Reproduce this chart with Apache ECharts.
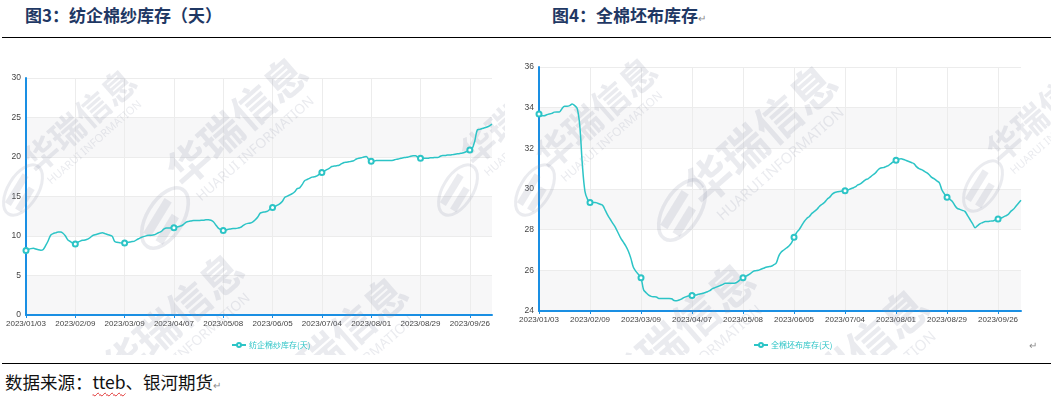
<!DOCTYPE html>
<html><head><meta charset="utf-8">
<script src="https://cdn.jsdelivr.net/npm/echarts/dist/echarts.min.js"></script>
<style>
html,body{margin:0;padding:0;}
body{width:1051px;height:404px;background:#fff;position:relative;overflow:hidden;font-family:"Noto Sans CJK SC",sans-serif;}
.t{position:absolute;top:3px;font-weight:bold;color:#1f3864;font-size:17px;line-height:24px;white-space:nowrap;}
.hr{position:absolute;left:2px;width:1049px;height:1px;background:#000;}
#c1{position:absolute;left:0;top:40px;width:505px;height:315px;}
#c2{position:absolute;left:510px;top:40px;width:541px;height:315px;}
.src{position:absolute;left:5px;top:370px;font-size:17.5px;line-height:24px;color:#111;white-space:nowrap;}
.ret{color:#8a8a8a;font-size:10px;font-weight:normal;}
.u{text-decoration:underline wavy #e03030;text-decoration-thickness:1px;text-underline-offset:3px;}
</style></head>
<body>
<div class="t" style="left:25px">图3：纺企棉纱库存（天）</div>
<div class="t" style="left:552px">图4：全棉坯布库存<span class="ret">↵</span></div>
<div class="hr" style="top:37px"></div>
<div id="c1"></div>
<div id="c2"></div>
<div class="ret" style="position:absolute;left:1029px;top:337px;z-index:5">↵</div>
<div class="hr" style="top:363px"></div>
<div class="src">数据来源：<span class="u">tteb</span>、银河期货<span class="ret">↵</span></div>
<script>
// Working dates (2023) shown on the category axis
const monthDays = [
  ['01',[3,4,5,6,9,10,11,12,13,16,17,18,30,31]],
  ['02',[1,2,3,6,7,8,9,10,13,14,15,16,17,20,21,22,23,24,27,28]],
  ['03',[1,2,3,6,7,8,9,10,13,14,15,16,17,20,21,22,23,24,27,28,29,30,31]],
  ['04',[3,4,6,7,10,11,12,13,14,17,18,19,20,21,23,24,25,26,27,28]],
  ['05',[4,5,6,8,9,10,11,12,15,16,17,18,19,22,23,24,25,26,29,30,31]],
  ['06',[1,2,5,6,7,8,9,12,13,14,15,16,19,20,21,25,26,27,28,29,30]],
  ['07',[3,4,5,6,7,10,11,12,13,14,17,18,19,20,21,24,25,26,27,28,31]],
  ['08',[1,2,3,4,7,8,9,10,11,14,15,16,17,18,21,22,23,24,25,28,29,30,31]],
  ['09',[1,4,5,6,7,8,11,12,13,14,15,18,19,20,21,22,25,26,27,28]],
  ['10',[7,8,9,10,11,12,13]]
];
const categories = [];
monthDays.forEach(([m, days]) => days.forEach(d => categories.push('2023/' + m + '/' + String(d).padStart(2,'0'))));

// Dates that carry a tick label and a marker on the line
const tickLabels = ['2023/01/03','2023/02/09','2023/03/09','2023/04/07','2023/05/08',
                    '2023/06/05','2023/07/04','2023/08/01','2023/08/29','2023/09/26'];

const yarnName = '纺企棉纱库存(天)';
const yarnValues = [
  8.15,8.3,8.4,8.45,8.35,8.25,8.2,8.3,8.8,9.4,
  10.1,10.3,10.4,10.5,10.5,10.35,10.0,9.5,9.3,9.1,
  9.0,9.2,9.35,9.45,9.5,9.6,9.8,10.05,10.15,10.25,
  10.35,10.4,10.3,10.2,10.1,9.95,9.3,9.2,9.15,9.1,
  9.1,9.15,9.25,9.3,9.35,9.55,9.7,9.85,9.95,10.05,
  10.1,10.1,10.15,10.3,10.45,10.6,10.9,11.0,11.0,11.05,
  11.05,11.1,11.2,11.3,11.5,11.75,11.85,11.9,11.95,11.95,
  11.95,12.0,12.0,12.05,12.05,12.0,11.8,11.4,11.0,10.8,
  10.7,10.75,10.85,10.9,10.95,10.95,11.0,11.1,11.3,11.5,
  11.6,11.65,11.8,12.05,12.4,12.9,13.0,13.05,13.15,13.4,
  13.6,13.75,13.9,14.1,14.4,14.9,15.05,15.2,15.35,15.6,
  16.0,16.1,16.5,17.0,17.15,17.3,17.45,17.5,17.6,17.85,
  18.05,18.2,18.4,18.55,18.8,18.85,18.9,18.95,19.15,19.3,
  19.35,19.4,19.45,19.55,19.75,19.85,19.9,20.0,20.05,19.7,
  19.45,19.45,19.55,19.55,19.55,19.55,19.55,19.55,19.55,19.6,
  19.7,19.75,19.85,19.9,19.95,20.0,20.1,20.15,20.15,19.95,
  19.85,19.85,19.85,19.85,19.9,19.9,19.95,19.95,20.1,20.2,
  20.2,20.25,20.25,20.3,20.35,20.4,20.45,20.5,20.6,20.75,
  20.9,21.1,22.0,23.4,23.5,23.6,23.7,23.8,23.95,24.15
];
const yarnTicks = [0, 5, 10, 15, 20, 25, 30];

const clothName = '全棉坯布库存(天)';
const clothValues = [
  33.69,33.6,33.6,33.65,33.69,33.72,33.78,33.79,33.79,33.95,
  34.07,34.07,34.1,34.18,34.1,33.95,33.1,31.2,29.9,29.5,
  29.34,29.34,29.34,29.3,29.25,29.19,28.95,28.7,28.5,28.3,
  28.1,27.85,27.6,27.4,27.2,26.95,26.6,26.15,25.95,25.8,
  25.64,25.05,24.9,24.78,24.72,24.7,24.69,24.62,24.62,24.62,
  24.62,24.62,24.6,24.52,24.51,24.54,24.6,24.67,24.72,24.75,
  24.76,24.78,24.8,24.84,24.86,24.9,24.95,25.0,25.1,25.15,
  25.2,25.25,25.3,25.36,25.36,25.36,25.36,25.38,25.45,25.55,
  25.64,25.7,25.77,25.85,25.95,25.98,26.0,26.05,26.1,26.15,
  26.18,26.2,26.27,26.35,26.7,26.9,27.0,27.1,27.2,27.35,
  27.63,27.85,28.0,28.2,28.4,28.55,28.65,28.8,28.9,29.0,
  29.15,29.25,29.35,29.5,29.6,29.75,29.83,29.86,29.88,29.9,
  29.91,29.95,30.0,30.05,30.1,30.2,30.25,30.35,30.45,30.5,
  30.6,30.7,30.8,30.95,31.03,31.05,31.1,31.15,31.25,31.35,
  31.41,31.47,31.49,31.45,31.4,31.35,31.3,31.25,31.1,31.0,
  30.95,30.88,30.8,30.7,30.57,30.5,30.4,30.3,29.95,29.75,
  29.6,29.5,29.4,29.2,29.05,29.0,28.95,28.9,28.7,28.5,
  28.3,28.1,28.2,28.3,28.35,28.4,28.4,28.42,28.43,28.48,
  28.53,28.56,28.62,28.68,28.75,28.9,29.0,29.15,29.3,29.45
];
const clothTicks = [24, 26, 28, 30, 32, 34, 36];

const LINE = '#2cc4c6';
const AXIS = '#1a8fe3';
const LABEL_FONT = '"Liberation Sans","Noto Sans",sans-serif';
const WM = 'rgba(140,142,165,0.18)';

const isTick = (idx) => tickLabels.indexOf(categories[idx]) !== -1;

function watermark(x, y, s) {
  return {
    type: 'group', x: x, y: y, rotation: 0.72, z: 50, silent: true,
    children: [
      { type: 'text', z: 50, x: 0, y: 0, style: { text: '华瑞信息', fill: WM, fontSize: 34 * s, fontWeight: 'bold', fontFamily: '"Noto Sans CJK SC"', verticalAlign: 'bottom' } },
      { type: 'text', z: 50, x: 4 * s, y: 4 * s, style: { text: 'HUARUI INFORMATION', fill: WM, fontSize: 11 * s, fontFamily: '"Noto Sans",sans-serif', verticalAlign: 'top' } }
    ]
  };
}
function logo(x, y, s) {
  return {
    type: 'group', x: x, y: y, rotation: -0.55, z: 50, silent: true,
    children: [
      { type: 'ellipse', z: 50, shape: { cx: 0, cy: 0, rx: 15 * s, ry: 28 * s }, style: { fill: 'none', stroke: WM, lineWidth: 3 * s } },
      { type: 'rect', z: 50, shape: { x: -9 * s, y: -14 * s, width: 7 * s, height: 34 * s }, style: { fill: WM } },
      { type: 'rect', z: 50, shape: { x: 3 * s, y: -6 * s, width: 7 * s, height: 26 * s }, style: { fill: WM } }
    ]
  };
}

function makeOption(name, values, ticks, grid, legendLeft, marks) {
  return {
    animation: false,
    grid: grid,
    graphic: { elements: marks },
    legend: {
      data: [name], left: legendLeft, top: 296, itemWidth: 14, itemHeight: 5, itemGap: 4,
      textStyle: { color: LINE, fontSize: 8, fontFamily: '"Noto Sans CJK SC",sans-serif', padding: [0, 0, 0, -2] }
    },
    xAxis: {
      type: 'category', data: categories, boundaryGap: false,
      axisLine: { lineStyle: { color: AXIS, width: 2 } },
      axisTick: { show: true, interval: isTick, length: 3, lineStyle: { color: AXIS } },
      axisLabel: { interval: isTick, color: '#444', fontSize: 8, fontFamily: LABEL_FONT, margin: 5, hideOverlap: false },
      splitLine: { show: true, interval: isTick, lineStyle: { color: '#ececec', width: 1 } }
    },
    yAxis: {
      type: 'value', min: ticks[0], max: ticks[ticks.length - 1], interval: ticks[1] - ticks[0],
      axisLine: { show: true, lineStyle: { color: AXIS, width: 2 } },
      axisTick: { show: false },
      axisLabel: { color: '#444', fontSize: 8.5, fontFamily: LABEL_FONT, margin: 5 },
      splitLine: { show: true, lineStyle: { color: '#ececec' } },
      splitArea: { show: true, areaStyle: { color: ['#f7f7f8', '#ffffff'] } }
    },
    series: [{
      name: name, type: 'line', data: values, smooth: 0.35, z: 100,
      showAllSymbol: true,
      symbol: 'emptyCircle',
      symbolSize: function (v, p) { return isTick(p.dataIndex) ? 5 : 0; },
      lineStyle: { color: LINE, width: 1.5 },
      itemStyle: { color: LINE, borderWidth: 1.2 }
    }]
  };
}

const c1 = echarts.init(document.getElementById('c1'), null, { renderer: 'canvas' });
c1.setOption(makeOption(yarnName, yarnValues, yarnTicks,
  { left: 26, top: 38, width: 466, height: 237 }, 226,
  [watermark(40, 138, 1), logo(23, 150, 1), watermark(187, 153, 1.25), logo(165, 178, 1.2),
   watermark(477, 130, 1), logo(458, 150, 1), watermark(123, 350, 1.25), watermark(287, 373, 1.25)]));

const c2 = echarts.init(document.getElementById('c2'), null, { renderer: 'canvas' });
c2.setOption(makeOption(clothName, clothValues, clothTicks,
  { left: 29, top: 27, width: 482, height: 244 }, 238,
  [watermark(43, 135, 1.08), logo(25, 150, 1), watermark(197, 172, 1.35), logo(172, 170, 1.2),
   watermark(493, 128, 1), logo(473, 146, 1), watermark(115, 370, 1.35), watermark(289, 396, 1.35)]));
</script>
</body></html>
